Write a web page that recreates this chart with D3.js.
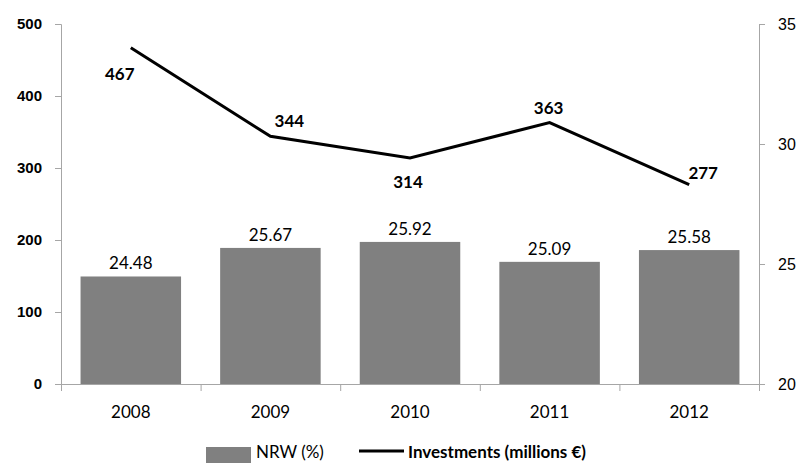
<!DOCTYPE html>
<html>
<head>
<meta charset="utf-8">
<script src="https://cdn.jsdelivr.net/npm/d3@7"></script>
<style>
  body { margin: 0; background: #fff; }
  svg { font-family: Lato, "Open Sans", sans-serif; }
</style>
</head>
<body>
<svg id="chart" width="802" height="463"></svg>
<script>
const years = ["2008", "2009", "2010", "2011", "2012"];
const nrw = [24.48, 25.67, 25.92, 25.09, 25.58];
const investments = [467, 344, 314, 363, 277];
const leftTicks = [0, 100, 200, 300, 400, 500];
const rightTicks = [20, 25, 30, 35];
// where each investment label sits relative to its point (dx, dy)
const lineLabelOffsets = [[-11, 26], [19, -15], [-2, 24], [-1, -15], [14, -12]];

const svg = d3.select("#chart");
const margin = { top: 24, right: 43, bottom: 79, left: 61 };
const width = 802 - margin.left - margin.right;
const height = 463 - margin.top - margin.bottom;
const axisColor = "#a6a6a6";

const g = svg.append("g")
  .attr("transform", `translate(${margin.left},${margin.top})`);

const x = d3.scaleBand()
  .domain(years)
  .range([0, width])
  .paddingInner(0.28)
  .paddingOuter(0.14);

const yLeft = d3.scaleLinear().domain([0, 500]).range([height, 0]);
const yRight = d3.scaleLinear().domain([20, 35]).range([height, 0]);

// bars (NRW, right axis)
g.selectAll(".bar")
  .data(nrw)
  .enter().append("rect")
  .attr("class", "bar")
  .attr("x", (d, i) => x(years[i]))
  .attr("y", d => yRight(d))
  .attr("width", x.bandwidth())
  .attr("height", d => height - yRight(d))
  .attr("fill", "#808080");

g.selectAll(".bar-label")
  .data(nrw)
  .enter().append("text")
  .attr("x", (d, i) => x(years[i]) + x.bandwidth() / 2)
  .attr("y", d => yRight(d) - 7)
  .attr("text-anchor", "middle")
  .style("font-size", "17px")
  .attr("fill", "#000")
  .text(d => d.toFixed(2));

// left axis
const leftAxis = g.append("g")
  .call(d3.axisLeft(yLeft).tickValues(leftTicks).tickSize(6).tickPadding(13));
leftAxis.selectAll("text")
  .style("font-size", "15px")
  .style("font-weight", "bold")
  .attr("fill", "#000");

// right axis
const rightAxis = g.append("g")
  .attr("transform", `translate(${width},0)`)
  .call(d3.axisRight(yRight).tickValues(rightTicks).tickSize(6).tickPadding(13));
rightAxis.selectAll("text")
  .style("font-size", "16px")
  .attr("fill", "#000");

// bottom axis: ticks between categories
const xEdge = d3.scaleLinear().domain([0, years.length]).range([0, width]);
const bottomAxis = g.append("g")
  .attr("transform", `translate(0,${height})`)
  .call(d3.axisBottom(xEdge).tickValues(d3.range(years.length + 1)).tickSize(7).tickFormat(""));

g.append("g")
  .selectAll("text")
  .data(years)
  .enter().append("text")
  .attr("x", d => x(d) + x.bandwidth() / 2)
  .attr("y", height + 34)
  .attr("text-anchor", "middle")
  .style("font-size", "17px")
  .attr("fill", "#000")
  .text(d => d);

[leftAxis, rightAxis, bottomAxis].forEach(a => {
  a.selectAll("path, line").attr("stroke", axisColor);
  a.select(".domain").attr("stroke", axisColor);
});

// investments line (left axis)
const line = d3.line()
  .x((d, i) => x(years[i]) + x.bandwidth() / 2)
  .y(d => yLeft(d));

g.append("path")
  .datum(investments)
  .attr("fill", "none")
  .attr("stroke", "#000")
  .attr("stroke-width", 3)
  .attr("stroke-linejoin", "miter")
  .attr("d", line);

g.selectAll(".line-label")
  .data(investments)
  .enter().append("text")
  .attr("x", (d, i) => x(years[i]) + x.bandwidth() / 2 + lineLabelOffsets[i][0])
  .attr("y", (d, i) => yLeft(d) + lineLabelOffsets[i][1])
  .attr("dy", "0.36em")
  .attr("text-anchor", "middle")
  .style("font-size", "17px")
  .style("font-weight", "bold")
  .attr("fill", "#000")
  .text(d => d);

// legend
const legend = svg.append("g");
legend.append("rect")
  .attr("x", 206).attr("y", 447)
  .attr("width", 45).attr("height", 16)
  .attr("fill", "#808080");
legend.append("text")
  .attr("x", 256).attr("y", 458)
  .style("font-size", "17px")
  .attr("fill", "#000")
  .text("NRW (%)");
legend.append("line")
  .attr("x1", 359).attr("x2", 404)
  .attr("y1", 451).attr("y2", 451)
  .attr("stroke", "#000")
  .attr("stroke-width", 3);
legend.append("text")
  .attr("x", 408).attr("y", 458)
  .style("font-size", "17px")
  .style("font-weight", "bold")
  .attr("fill", "#000")
  .text("Investments (millions €)");
</script>
</body>
</html>
